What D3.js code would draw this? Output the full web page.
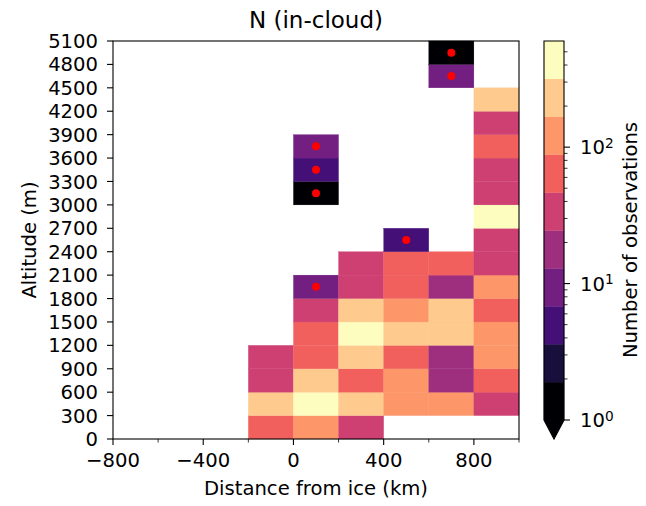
<!DOCTYPE html>
<html><head><meta charset="utf-8">
<script src="https://cdn.jsdelivr.net/npm/d3@7"></script>
<style>body{margin:0;background:#fff} svg{display:block} text{font-family:"DejaVu Sans",sans-serif;fill:#000}</style>
</head><body><svg id="c" width="646" height="506"></svg>
<script>
// ---- data ----
const xBinLeft = [-800, -600, -400, -200, 0, 200, 400, 600, 800]; // bin width 200 km
const altBinBottom = [0,300,600,900,1200,1500,1800,2100,2400,2700,3000,3300,3600,3900,4200,4500,4800]; // bin 300 m
const xTicks = [-800, -400, 0, 400, 800];
const xMinorTicks = [-600, -200, 200, 600, 1000];
const yTicks = [0,300,600,900,1200,1500,1800,2100,2400,2700,3000,3300,3600,3900,4200,4500,4800,5100];
// observation counts, one row per altitude bin (bottom first), columns follow xBinLeft; null = no data
const counts = [
  [null,null,null,  70, 125,  38,null,null,null],
  [null,null,null, 240, 450, 220, 130, 110,  32],
  [null,null,null,  36, 210,  60, 120,  18,  70],
  [null,null,null,  33,  75, 250,  62,  17, 115],
  [null,null,null,null,  68, 430, 230, 210, 130],
  [null,null,null,null,  34, 240, 125, 220,  66],
  [null,null,null,null,   8,  40,  62,  19, 115],
  [null,null,null,null,null,  36,  68,  64,  38],
  [null,null,null,null,null,null,   5,null,  36],
  [null,null,null,null,null,null,null,null, 400],
  [null,null,null,null,   1,null,null,null,  37],
  [null,null,null,null,   5,null,null,null,  35],
  [null,null,null,null,   8,null,null,null,  60],
  [null,null,null,null,null,null,null,null,  32],
  [null,null,null,null,null,null,null,null, 230],
  [null,null,null,null,null,null,null,   8,null],
  [null,null,null,null,null,null,null,   1,null]
];
const vmin = 1, vmax = 600, nLevels = 10;
const cbTicks = [1, 10, 100];
const lowCountThreshold = 10;

// ---- layout ----
const svg = d3.select("#c");
const L = 113, R = 519, T = 41, B = 439;
const binW = 200, binH = 300;
const x = d3.scaleLinear().domain([-800, 1000]).range([L, R]);
const y = d3.scaleLinear().domain([0, 5100]).range([B, T]);

const bounds = d3.range(nLevels + 1).map(i => Math.pow(10, Math.log10(vmin) + i * (Math.log10(vmax) - Math.log10(vmin)) / nLevels));
const levelColors = d3.range(nLevels).map(i => d3.interpolateMagma(i / (nLevels - 1)));
const color = d3.scaleThreshold().domain(bounds.slice(1, nLevels)).range(levelColors);

const cells = [];
counts.forEach((row, r) => row.forEach((n, c) => { if (n != null) cells.push({x0: xBinLeft[c], y0: altBinBottom[r], n}); }));

const FS = 19.6;
svg.append("g").selectAll("rect").data(cells).join("rect")
  .attr("x", d => x(d.x0)).attr("y", d => y(d.y0 + binH))
  .attr("width", d => x(d.x0 + binW) - x(d.x0)).attr("height", d => y(d.y0) - y(d.y0 + binH))
  .attr("fill", d => d.n < vmin ? levelColors[0] : color(d.n))
  .attr("stroke", d => color(d.n)).attr("stroke-width", 0.3);

svg.append("g").selectAll("circle").data(cells.filter(d => d.n < lowCountThreshold)).join("circle")
  .attr("cx", d => x(d.x0 + binW / 2)).attr("cy", d => y(d.y0 + binH / 2)).attr("r", 4).attr("fill", "#ff0000");

// frame
svg.append("rect").attr("x", L).attr("y", T).attr("width", R - L).attr("height", B - T)
  .attr("fill", "none").attr("stroke", "#000").attr("stroke-width", 1.1);

// x axis
const gx = svg.append("g");
gx.selectAll("line.maj").data(xTicks).join("line").attr("x1", d => x(d)).attr("x2", d => x(d)).attr("y1", B).attr("y2", B + 6).attr("stroke", "#000").attr("stroke-width", 1.1);
gx.selectAll("line.min").data(xMinorTicks).join("line").attr("x1", d => x(d)).attr("x2", d => x(d)).attr("y1", B).attr("y2", B + 3.5).attr("stroke", "#000").attr("stroke-width", 0.8);
gx.selectAll("text").data(xTicks).join("text").attr("x", d => x(d)).attr("y", 467).attr("text-anchor", "middle").attr("font-size", FS)
  .text(d => d < 0 ? "\u2212" + Math.abs(d) : String(d));
svg.append("text").attr("x", (L + R) / 2).attr("y", 495).attr("text-anchor", "middle").attr("font-size", FS).text("Distance from ice (km)");

// y axis
const gy = svg.append("g");
gy.selectAll("line").data(yTicks).join("line").attr("x1", L - 6).attr("x2", L).attr("y1", d => y(d)).attr("y2", d => y(d)).attr("stroke", "#000").attr("stroke-width", 1.1);
gy.selectAll("text").data(yTicks).join("text").attr("x", 98).attr("y", d => y(d)).attr("dy", "0.36em").attr("text-anchor", "end").attr("font-size", FS).text(d => d);
svg.append("text").attr("transform", `translate(36,${(T + B) / 2}) rotate(-90)`).attr("text-anchor", "middle").attr("font-size", FS).text("Altitude (m)");

// title
svg.append("text").attr("x", (L + R) / 2).attr("y", 28).attr("text-anchor", "middle").attr("font-size", 23).text("N (in-cloud)");

// colorbar
const cL = 544, cR = 564, cT = 41, cB = 420, cTip = 439;
const cy = d3.scaleLog().domain([vmin, vmax]).range([cB, cT]);
const cb = svg.append("g");
cb.selectAll("rect").data(d3.range(nLevels)).join("rect")
  .attr("x", cL).attr("width", cR - cL)
  .attr("y", i => cy(bounds[i + 1])).attr("height", i => cy(bounds[i]) - cy(bounds[i + 1]))
  .attr("fill", i => levelColors[i]).attr("stroke", i => levelColors[i]).attr("stroke-width", 0.3);
cb.append("path").attr("d", `M${cL},${cB}L${cR},${cB}L${(cL + cR) / 2},${cTip}Z`).attr("fill", levelColors[0]);
cb.append("path").attr("d", `M${cL},${cT}L${cR},${cT}L${cR},${cB}L${(cL + cR) / 2},${cTip}L${cL},${cB}Z`)
  .attr("fill", "none").attr("stroke", "#000").attr("stroke-width", 1.1);
const minor = [];
[1, 10, 100].forEach(dec => d3.range(2, 10).forEach(m => { const v = dec * m; if (v < vmax) minor.push(v); }));
cb.selectAll("line.mn").data(minor).join("line").attr("x1", cR).attr("x2", cR + 3.5).attr("y1", d => cy(d)).attr("y2", d => cy(d)).attr("stroke", "#000").attr("stroke-width", 0.8);
cb.selectAll("line.mj").data(cbTicks).join("line").attr("x1", cR).attr("x2", cR + 6).attr("y1", d => cy(d)).attr("y2", d => cy(d)).attr("stroke", "#000").attr("stroke-width", 1.1);
const lab = cb.selectAll("text").data(cbTicks).join("text").attr("x", 580).attr("y", d => cy(d)).attr("dy", "0.36em").attr("font-size", FS);
lab.append("tspan").text("10");
lab.append("tspan").attr("dy", "-0.45em").attr("font-size", FS * 0.7).text(d => Math.round(Math.log10(d)));
svg.append("text").attr("transform", `translate(637,${(cT + cTip) / 2}) rotate(-90)`).attr("text-anchor", "middle").attr("font-size", FS).text("Number of observations");
</script></body></html>
